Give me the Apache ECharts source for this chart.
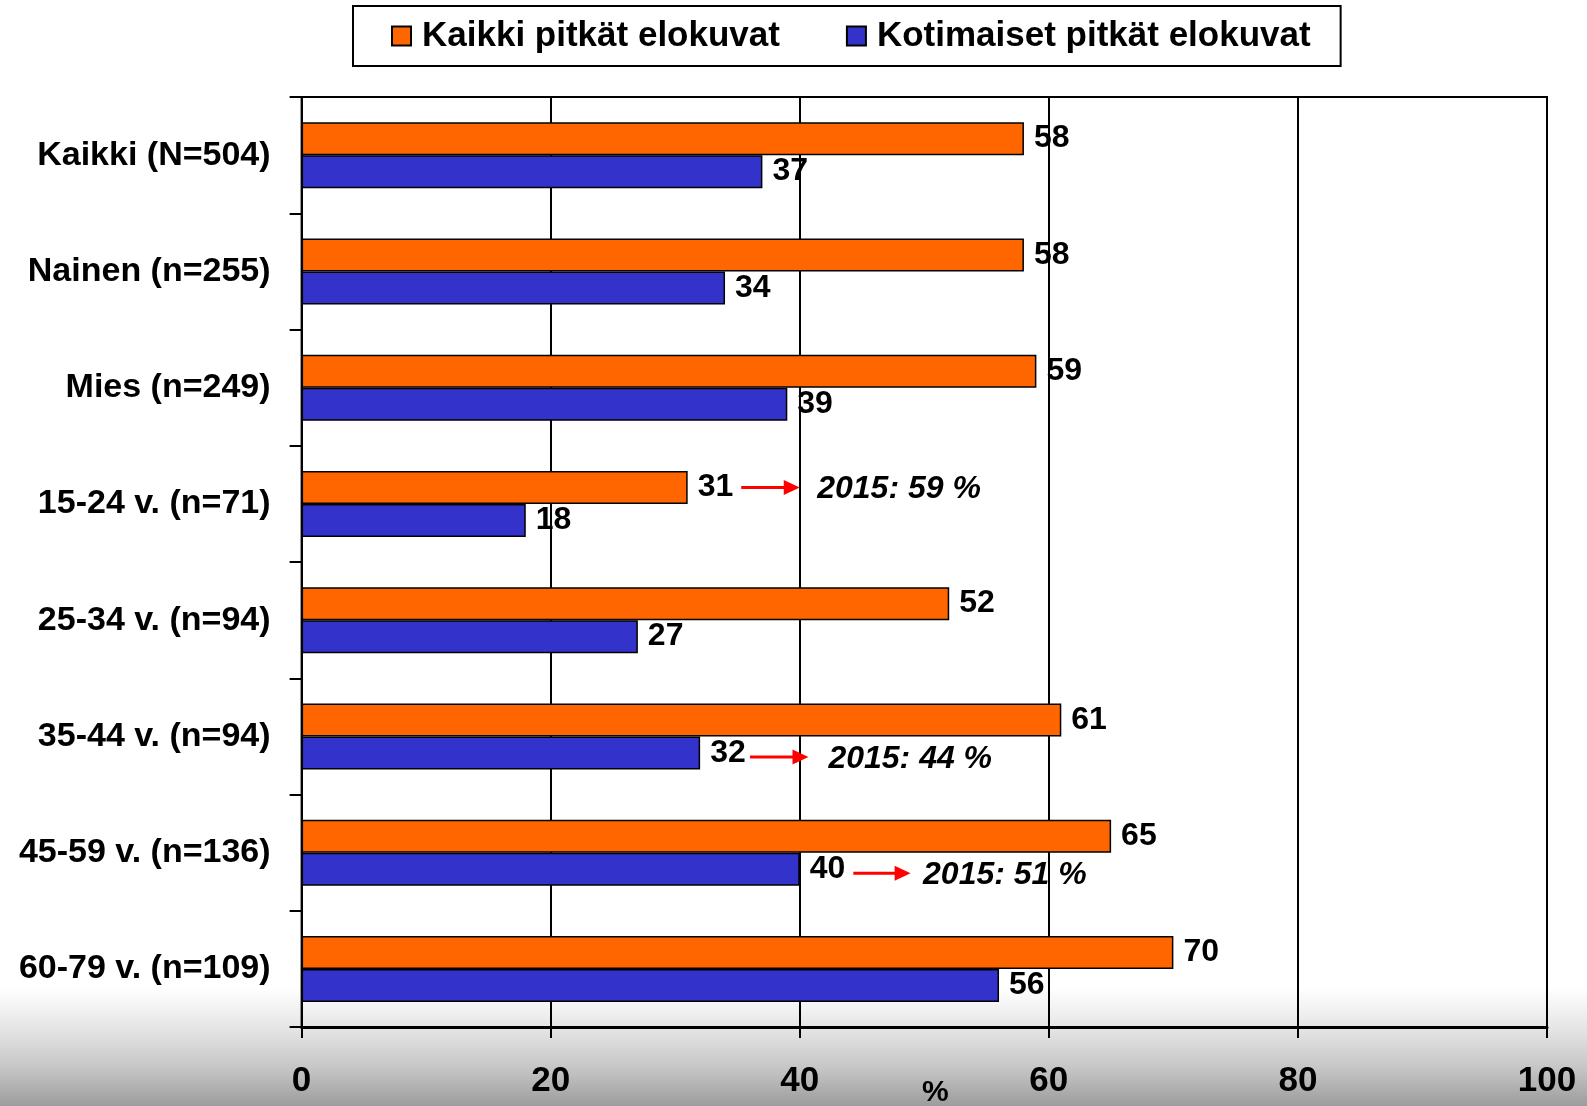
<!DOCTYPE html>
<html>
<head>
<meta charset="utf-8">
<script src="https://cdn.jsdelivr.net/npm/echarts@6/dist/echarts.min.js"></script>
<style>
html, body { margin: 0; padding: 0; }
body { width: 1587px; height: 1106px; overflow: hidden;
  background: linear-gradient(to bottom, #ffffff 0px, #ffffff 988px, #e4e4e4 1030px, #c4c4c4 1070px, #9c9c9c 1106px); }
#chart { width: 1587px; height: 1106px; }
</style>
</head>
<body>
<div id="chart"></div>
<script>
const categories = ['Kaikki (N=504)', 'Nainen (n=255)', 'Mies (n=249)', '15-24 v. (n=71)',
  '25-34 v. (n=94)', '35-44 v. (n=94)', '45-59 v. (n=136)', '60-79 v. (n=109)'];
const seriesNames = ['Kaikki pitkät elokuvat', 'Kotimaiset pitkät elokuvat'];
const allFilms = [58, 58, 59, 31, 52, 61, 65, 70];
const domesticFilms = [37, 34, 39, 18, 27, 32, 40, 56];
const axisMin = 0, axisMax = 100, axisStep = 20;
const axisName = '%';
// annotations: [category index, bar (0 = all, 1 = domestic), arrow start, arrow tip, text start]
const noteValues = [
  [3, 0, 35.3, 40.0, 41.4],
  [5, 1, 36.0, 40.7, 42.3],
  [6, 1, 44.3, 48.9, 49.9]
];
const noteTexts = ['2015: 59 %', '2015: 44 %', '2015: 51 %'];

const FONT = '"Liberation Sans", Arial, Helvetica, sans-serif';
const chart = echarts.init(document.getElementById('chart'));
const BAR_W = 33;

chart.setOption({
  animation: false,
  textStyle: { fontFamily: FONT, color: '#000' },
  legend: {
    data: seriesNames,
    left: 353, top: 6,
    padding: [10, 30, 10, 38],
    itemWidth: 19, itemHeight: 19, itemGap: 66,
    icon: 'rect',
    borderColor: '#000', borderWidth: 2,
    textStyle: { fontSize: 35, fontWeight: 'bold', color: '#000', fontFamily: FONT, lineHeight: 40, padding: [0, 0, 0, 6] }
  },
  grid: {
    left: 301.6, right: 40, top: 97, bottom: 79,
    containLabel: false, outerBoundsMode: 'none',
    show: true, borderColor: '#000', borderWidth: 2, backgroundColor: 'transparent'
  },
  xAxis: {
    type: 'value', min: axisMin, max: axisMax, interval: axisStep,
    name: axisName, nameLocation: 'middle', nameGap: 51, nameMoveOverlap: false,
    nameTextStyle: { fontSize: 30, fontWeight: 'bold', color: '#000', fontFamily: FONT, padding: [0, 0, 0, 22] },
    axisLine: { show: true, lineStyle: { color: '#000', width: 3 } },
    axisTick: { show: true, length: 11, lineStyle: { color: '#000', width: 2 } },
    axisLabel: { fontSize: 35, fontWeight: 'bold', color: '#000', margin: 37, fontFamily: FONT },
    splitLine: { show: true, lineStyle: { color: '#000', width: 2 } }
  },
  yAxis: {
    type: 'category', data: categories, inverse: true,
    axisLine: { show: true, lineStyle: { color: '#000', width: 2 } },
    axisTick: { show: true, length: 12, lineStyle: { color: '#000', width: 2 } },
    axisLabel: { fontSize: 34, fontWeight: 'bold', color: '#000', margin: 31, fontFamily: FONT },
    splitLine: { show: false }
  },
  series: [
    {
      name: seriesNames[0], type: 'bar', data: allFilms,
      barWidth: BAR_W, barGap: '0%',
      itemStyle: { color: '#FF6600', borderColor: '#000', borderWidth: 1.5 },
      label: { show: true, position: 'right', distance: 10, fontSize: 32, fontWeight: 'bold', color: '#000', fontFamily: FONT }
    },
    {
      name: seriesNames[1], type: 'bar', data: domesticFilms,
      barWidth: BAR_W, barGap: '0%',
      itemStyle: { color: '#3333CC', borderColor: '#000', borderWidth: 1.5 },
      label: { show: true, position: 'right', distance: 10, fontSize: 32, fontWeight: 'bold', color: '#000', fontFamily: FONT }
    },
    {
      type: 'custom', silent: true, z: 10,
      encode: { x: [2, 3, 4], y: 0 },
      data: noteValues,
      renderItem: function (params, api) {
        const cat = api.value(0), bar = api.value(1);
        const s = api.coord([api.value(2), cat]);
        const tip = api.coord([api.value(3), cat])[0];
        const tx = api.coord([api.value(4), cat])[0];
        const y = s[1] + (bar === 0 ? -BAR_W / 2 : BAR_W / 2 + 4);
        return {
          type: 'group',
          children: [
            { type: 'line', shape: { x1: s[0], y1: y, x2: tip - 14, y2: y },
              style: { stroke: '#FF0000', lineWidth: 3 } },
            { type: 'polygon', shape: { points: [[tip - 16, y - 7.5], [tip, y], [tip - 16, y + 7.5]] },
              style: { fill: '#FF0000' } },
            { type: 'text', x: tx, y: y + 2,
              style: { text: noteTexts[params.dataIndex], fill: '#000',
                font: 'italic bold 32px ' + FONT, textAlign: 'left', textVerticalAlign: 'middle' } }
          ]
        };
      }
    }
  ]
});
</script>
</body>
</html>
